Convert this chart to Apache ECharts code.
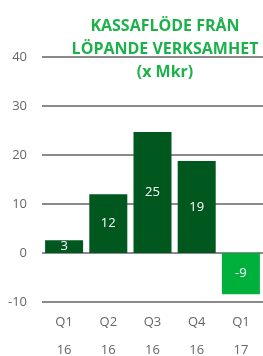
<!DOCTYPE html>
<html><head><meta charset="utf-8">
<style>html,body{margin:0;padding:0;background:#fff}#c{width:263px;height:356px}</style>
<script src="https://cdn.jsdelivr.net/npm/echarts@6/dist/echarts.min.js"></script>
</head><body><div id="c"></div>
<script>
var categories = ['Q1\n16','Q2\n16','Q3\n16','Q4\n16','Q1\n17'];
var values = [2.6, 12.0, 24.7, 18.8, -8.4];
var valueLabels = ['3','12','25','19','-9'];
var barColors = ['#00581f','#00581f','#00581f','#00581f','#00b03c'];
var yTicks = [-10, 0, 10, 20, 30, 40];
var titleText = 'KASSAFLÖDE FRÅN\nLÖPANDE VERKSAMHET\n(x Mkr)';

var chart = echarts.init(document.getElementById('c'), null, {renderer:'canvas'});
chart.setOption({
  animation:false,
  title:{text:titleText, left:160, top:10, textAlign:'center',
    textStyle:{color:'#1db14b', fontFamily:'Open Sans', fontWeight:'bold', fontSize:16, lineHeight:23}},
  grid:{left:42, right:0, top:57, bottom:54, containLabel:false, outerBoundsMode:'none'},
  xAxis:{type:'category', data:categories,
    axisLine:{show:false, onZero:false}, axisTick:{show:false},
    axisLabel:{color:'#666', fontFamily:'Open Sans', fontSize:13, lineHeight:28, margin:6}},
  yAxis:{type:'value', min:yTicks[0], max:yTicks[yTicks.length-1], interval:10,
    axisLine:{show:false}, axisTick:{show:false},
    axisLabel:{color:'#666', fontFamily:'Open Sans', fontSize:13, margin:15},
    splitLine:{lineStyle:{color:'#8a8a8a', width:2}}},
  series:[{type:'bar', barCategoryGap:'14%',
    data: values.map(function(v,i){return {value:v, itemStyle:{color:barColors[i]}};}),
    label:{show:true, position:'inside', color:'#fff', fontFamily:'Open Sans', fontSize:13,
      formatter:function(p){return valueLabels[p.dataIndex];}}}]
});
</script></body></html>
